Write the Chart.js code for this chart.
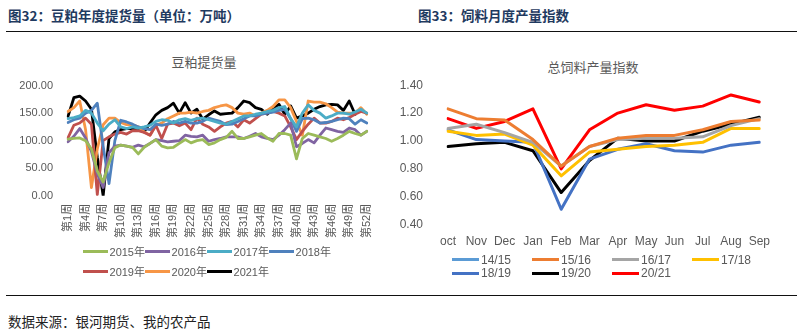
<!DOCTYPE html>
<html lang="zh">
<head>
<meta charset="UTF-8">
<title>豆粕提货量 / 饲料产量指数</title>
<script src="https://cdn.jsdelivr.net/npm/chart.js"></script>
<style>
    body { margin: 0; width: 802px; height: 336px; background: #fff; position: relative; overflow: hidden;
           font-family: "Liberation Sans", "Noto Sans CJK SC", sans-serif; }
    .fig-title { position: absolute; top: 5px; font-family: "Noto Sans CJK SC"; font-weight: bold;
                 font-size: 13.5px; color: #1f3a60; white-space: nowrap; }
    .chart-title { position: absolute; width: 200px; text-align: center; font-family: "Noto Sans CJK SC";
                   font-size: 13px; line-height: 18px; color: #595959; }
    .rule { position: absolute; left: 6px; width: 791px; height: 0; border-top: 1.5px solid #111; }
    canvas { position: absolute; }
    .legend { position: absolute; display: grid; color: #595959; }
    .legend .item { display: flex; align-items: center; white-space: nowrap; }
    .legend i { display: inline-block; height: 3px; margin-right: 2px; }
    #legendLeft { left: 83px; top: 241px; grid-template-columns: repeat(4, 62px); grid-auto-rows: 20px; font-size: 11px; }
    #legendLeft i { width: 25px; }
    #legendRight { left: 452px; top: 253px; grid-template-columns: repeat(4, 80px); grid-auto-rows: 13.5px; font-size: 12px; }
    #legendRight i { width: 27px; }
    .source { position: absolute; left: 8px; top: 311px; font-family: "Noto Sans CJK SC"; font-size: 13.5px; color: #222; }
</style>
</head>
<body>
<div class="fig-title" style="left:8px">图32：豆粕年度提货量（单位：万吨）</div>
<div class="fig-title" style="left:418px">图33：饲料月度产量指数</div>
<div class="rule" style="top:31px"></div>

<div class="chart-title" style="left:104px;top:53px">豆粕提货量</div>
<div class="chart-title" style="left:493px;top:58px">总饲料产量指数</div>
<canvas id="leftChart" width="388" height="182" style="left:0;top:64px"></canvas>
<canvas id="rightChart" width="380" height="206" style="left:400px;top:53px"></canvas>
<div class="legend" id="legendLeft"></div>
<div class="legend" id="legendRight"></div>

<div class="rule" style="top:295px"></div>
<div class="source">数据来源：银河期货、我的农产品</div>

<script>
// ---- 豆粕提货量 (万吨), 第1周..第52周 ----
const weekLabels = [];
for (let w = 1; w <= 52; w++) weekLabels.push('第' + w + '周');

const yearNames = ['2015年', '2016年', '2017年', '2018年', '2019年', '2020年', '2021年'];
const yearColors = ['#9BBB59', '#8064A2', '#4BACC6', '#4F81BD', '#C0504D', '#F79646', '#000000'];

const y2015 = [103,104,105,100,85,45,25,60,87,92,90,88,76,88,95,102,90,87,88,95,
               102,96,100,102,93,96,102,106,117,104,104,107,110,113,105,99,113,113,110,67,
               104,113,110,107,104,99,104,110,117,113,110,117];
const y2016 = [98,108,122,105,80,40,15,78,90,92,90,88,92,89,95,102,100,98,99,100,
               110,108,107,110,99,102,104,107,107,107,104,108,113,107,104,102,110,120,132,89,
               95,102,96,110,123,120,117,115,123,120,110,117];
const y2017 = [140,142,145,155,150,132,118,130,138,125,122,125,123,125,128,135,138,137,132,138,
               140,137,140,141,138,135,132,130,135,140,145,145,148,150,153,155,160,162,140,125,
               150,165,155,150,141,145,150,150,148,152,157,150];
const y2018 = [133,138,141,150,155,168,90,22,100,137,134,130,125,122,120,130,128,130,135,132,
               135,132,132,135,141,138,135,129,130,135,140,145,145,148,150,152,155,157,140,117,
               140,141,138,132,133,135,138,141,140,130,138,132];
const y2019 = [105,128,132,141,130,2,100,107,112,115,112,118,118,115,110,128,104,130,132,127,
               132,120,141,130,125,117,125,132,135,125,138,132,140,148,150,153,150,145,125,102,
               117,130,141,132,132,135,141,138,142,148,153,150];
const y2020 = [153,160,172,120,15,85,129,141,141,133,129,129,125,116,110,128,132,140,145,150,
               150,152,150,153,155,160,163,165,160,150,148,150,145,150,155,162,174,174,160,135,
               110,172,170,170,167,160,152,150,150,150,160,148];
const y2021 = [144,178,181,172,157,70,0,104,116,120,122,122,120,116,132,147,155,160,168,150,
               169,150,157,139,147,154,148,149,150,160,172,169,160,157,148,158,166,148,163,141,
               145,150,157,162,165,166,165,155,172,148];
const yearSeries = [y2015, y2016, y2017, y2018, y2019, y2020, y2021];
const leftTicks = [0, 50, 100, 150, 200];

// ---- 总饲料产量指数 ----
const monthLabels = ['oct', 'Nov', 'Dec', 'Jan', 'Feb', 'Mar', 'Apr', 'May', 'Jun', 'Jul', 'Aug', 'Sep'];
const seasonNames = ['14/15', '15/16', '16/17', '17/18', '18/19', '19/20', '20/21'];
const seasonColors = ['#5B9BD5', '#ED7D31', '#A5A5A5', '#FFC000', '#4472C4', '#000000', '#FF0000'];

const s1415 = [];
const s1516 = [1.23, 1.16, 1.15, 1.01, 0.82, 0.96, 1.02, 1.04, 1.04, 1.08, 1.14, 1.15];
const s1617 = [1.09, 1.12, 1.06, 0.99, 0.82, 0.96, 1.01, 1.02, 1.02, 1.03, 1.11, 1.16];
const s1718 = [1.07, 1.04, 1.05, 0.97, 0.75, 0.92, 0.94, 0.96, 0.97, 0.99, 1.09, 1.09];
const s1819 = [1.08, 1.01, 1.00, 0.99, 0.51, 0.87, 0.94, 0.98, 0.93, 0.92, 0.97, 0.99];
const s1920 = [0.96, 0.98, 0.99, 0.93, 0.63, 0.86, 1.02, 1.00, 1.00, 1.07, 1.12, 1.17];
const s2021 = [1.16, 1.09, 1.14, 1.23, 0.80, 1.08, 1.20, 1.26, 1.22, 1.25, 1.33, 1.28];
const seasonSeries = [s1415, s1516, s1617, s1718, s1819, s1920, s2021];
const rightTicks = [0.4, 0.6, 0.8, 1.0, 1.2, 1.4];

const GREY = '#595959';
const AXIS_FONT = 'Liberation Sans, Noto Sans CJK SC';

function lineSet(label, data, color, width) {
    return {
        label: label,
        data: data,
        borderColor: color,
        backgroundColor: color,
        borderWidth: width,
        pointRadius: 0,
        tension: 0,
        fill: false,
        borderJoinStyle: 'round',
        borderCapStyle: 'round'
    };
}

function buildLegend(id, names, colors) {
    const box = document.getElementById(id);
    names.forEach((n, i) => {
        const item = document.createElement('span');
        item.className = 'item';
        item.innerHTML = '<i style="background:' + colors[i] + '"></i>' + n;
        box.appendChild(item);
    });
}

// 左图
new Chart(document.getElementById('leftChart'), {
    type: 'line',
    data: {
        labels: weekLabels,
        datasets: yearSeries.map((d, i) => lineSet(yearNames[i], d, yearColors[i], 2.8))
    },
    options: {
        responsive: false,
        animation: false,
        layout: { padding: 0 },
        plugins: { legend: { display: false }, tooltip: { enabled: false } },
        scales: {
            x: {
                offset: false,
                grid: { display: false, drawTicks: false },
                border: { display: false },
                ticks: {
                    autoSkip: false, maxRotation: 90, minRotation: 90, padding: 8,
                    color: GREY, font: { family: AXIS_FONT, size: 11 },
                    callback: (v, i) => (i % 3 === 0 ? weekLabels[i] : '')
                }
            },
            y: {
                min: leftTicks[0],
                max: leftTicks[leftTicks.length - 1],
                grid: { display: false, drawTicks: false },
                border: { display: false },
                afterBuildTicks: axis => { axis.ticks = leftTicks.map(v => ({ value: v })); },
                afterFit: axis => { axis.width = 68; },
                ticks: {
                    padding: 15, color: GREY, font: { family: AXIS_FONT, size: 11 },
                    callback: v => Number(v).toFixed(2)
                }
            }
        }
    }
});

// 右图
new Chart(document.getElementById('rightChart'), {
    type: 'line',
    data: {
        labels: monthLabels,
        datasets: seasonSeries.map((d, i) => lineSet(seasonNames[i], d, seasonColors[i], 3))
    },
    options: {
        responsive: false,
        animation: false,
        layout: { padding: { left: 0, right: 17, top: 0, bottom: 0 } },
        plugins: { legend: { display: false }, tooltip: { enabled: false } },
        scales: {
            x: {
                offset: false,
                grid: { display: false, drawTicks: false },
                border: { display: false },
                ticks: { maxRotation: 0, padding: 10, color: GREY, font: { family: AXIS_FONT, size: 12 } }
            },
            y: {
                min: rightTicks[0],
                max: rightTicks[rightTicks.length - 1],
                grid: { display: false, drawTicks: false },
                border: { display: false },
                afterBuildTicks: axis => { axis.ticks = rightTicks.map(v => ({ value: v })); },
                afterFit: axis => { axis.width = 48; },
                ticks: {
                    padding: 25, color: GREY, font: { family: AXIS_FONT, size: 12 },
                    callback: v => Number(v).toFixed(2)
                }
            }
        }
    }
});

buildLegend('legendLeft', yearNames, yearColors);
buildLegend('legendRight', seasonNames, seasonColors);
</script>
</body>
</html>
